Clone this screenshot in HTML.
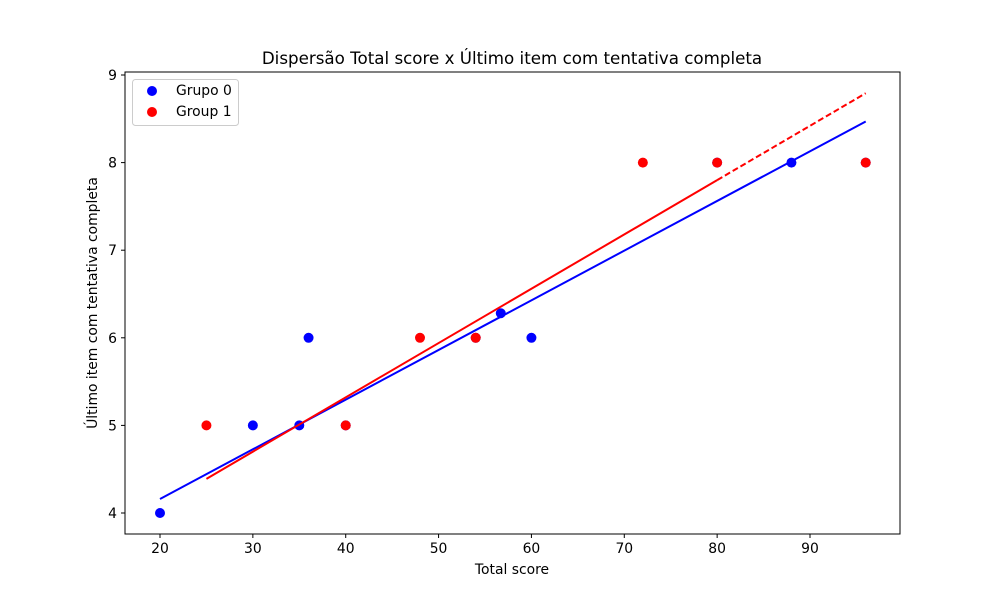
<!DOCTYPE html>
<html><head><meta charset="utf-8"><style>
body{margin:0;background:#fff}
svg text{font-family:"DejaVu Sans","Liberation Sans",sans-serif;fill:#000}
</style></head><body>
<svg id="chart" width="1000" height="600" xmlns="http://www.w3.org/2000/svg">
<rect width="1000" height="600" fill="#fff"/>
<g id="marks"></g>
<g id="axes"></g>
</svg>
<script>
const xTicks=[20,30,40,50,60,70,80,90];
const yTicks=[4,5,6,7,8,9];
const g0x=[20,30,35,36,40,54,56.7,60,80,88,96];
const g0y=[4,5,5,6,5,6,6.28,6,8,8,8];
const g1x=[25,40,48,54,72,80,96];
const g1y=[5,5,6,6,8,8,8];
const g0fit=[0.0567,3.026];
const g1fit=[0.062,2.84];
const g0range=[20,96];
const g1range=[25,80,96];
const L=125,R=900,T=72,B=534;
const X=v=>160+(v-20)*650/70;
const Y=v=>513-(v-4)*438/5;
const NS='http://www.w3.org/2000/svg';
function mk(tag,attrs,parent,text){const e=document.createElementNS(NS,tag);for(const k in attrs)e.setAttribute(k,attrs[k]);if(text!==undefined)e.textContent=text;parent.appendChild(e);return e;}
const marks=document.getElementById('marks'),axes=document.getElementById('axes');
g0x.forEach((v,i)=>{const c=mk('circle',{cx:X(v),cy:Y(g0y[i]),r:5,fill:'#0000ff'},marks);

});
g1x.forEach((v,i)=>{const c=mk('circle',{cx:X(v),cy:Y(g1y[i]),r:5,fill:'#ff0000'},marks);

});
const f=(fit,x)=>fit[0]*x+fit[1];
let l=mk('line',{x1:X(g0range[0]),y1:Y(f(g0fit,g0range[0])),x2:X(g0range[1]),y2:Y(f(g0fit,g0range[1])),stroke:'#0000ff','stroke-width':2},marks);


l=mk('line',{x1:X(g1range[0]),y1:Y(f(g1fit,g1range[0])),x2:X(g1range[1]),y2:Y(f(g1fit,g1range[1])),stroke:'#ff0000','stroke-width':2},marks);


l=mk('line',{x1:X(g1range[1]),y1:Y(f(g1fit,g1range[1])),x2:X(g1range[2]),y2:Y(f(g1fit,g1range[2])),stroke:'#ff0000','stroke-width':2,'stroke-dasharray':'6,3'},marks);


mk('rect',{x:L,y:T,width:R-L,height:B-T,fill:'none',stroke:'#000','stroke-width':1},axes);
xTicks.forEach(v=>{mk('line',{x1:X(v),y1:B,x2:X(v),y2:B+4,stroke:'#000'},axes);
const t=mk('text',{x:X(v),y:B+19,'font-size':13.9,'text-anchor':'middle'},axes,v);

});
yTicks.forEach(v=>{mk('line',{x1:L-4,y1:Y(v),x2:L,y2:Y(v),stroke:'#000'},axes);
const t=mk('text',{x:L-8,y:Y(v)+5,'font-size':13.9,'text-anchor':'end'},axes,v);

});
</script>
<svg style="position:absolute;left:0;top:0" width="1000" height="600" xmlns="http://www.w3.org/2000/svg">
<text x="512" y="64" font-size="16.7" text-anchor="middle" style="font-family:'DejaVu Sans','Liberation Sans',sans-serif">Dispersão Total score x Último item com tentativa completa</text>
<text x="512" y="574" font-size="13.9" text-anchor="middle" style="font-family:'DejaVu Sans','Liberation Sans',sans-serif">Total score</text>
<text transform="translate(97,303) rotate(-90)" font-size="13.9" text-anchor="middle" style="font-family:'DejaVu Sans','Liberation Sans',sans-serif">Último item com tentativa completa</text>
<g>
<rect x="132.5" y="79.5" width="106" height="46" rx="3" fill="#fff" fill-opacity="0.8" stroke="#ccc"/>
<circle cx="152" cy="91" r="5" fill="#0000ff"/>
<text x="176" y="95" font-size="13.9" style="font-family:'DejaVu Sans','Liberation Sans',sans-serif">Grupo 0</text>
<circle cx="152" cy="112" r="5" fill="#ff0000"/>
<text x="176" y="116" font-size="13.9" style="font-family:'DejaVu Sans','Liberation Sans',sans-serif">Group 1</text>
</g>
</svg>
</body></html>
